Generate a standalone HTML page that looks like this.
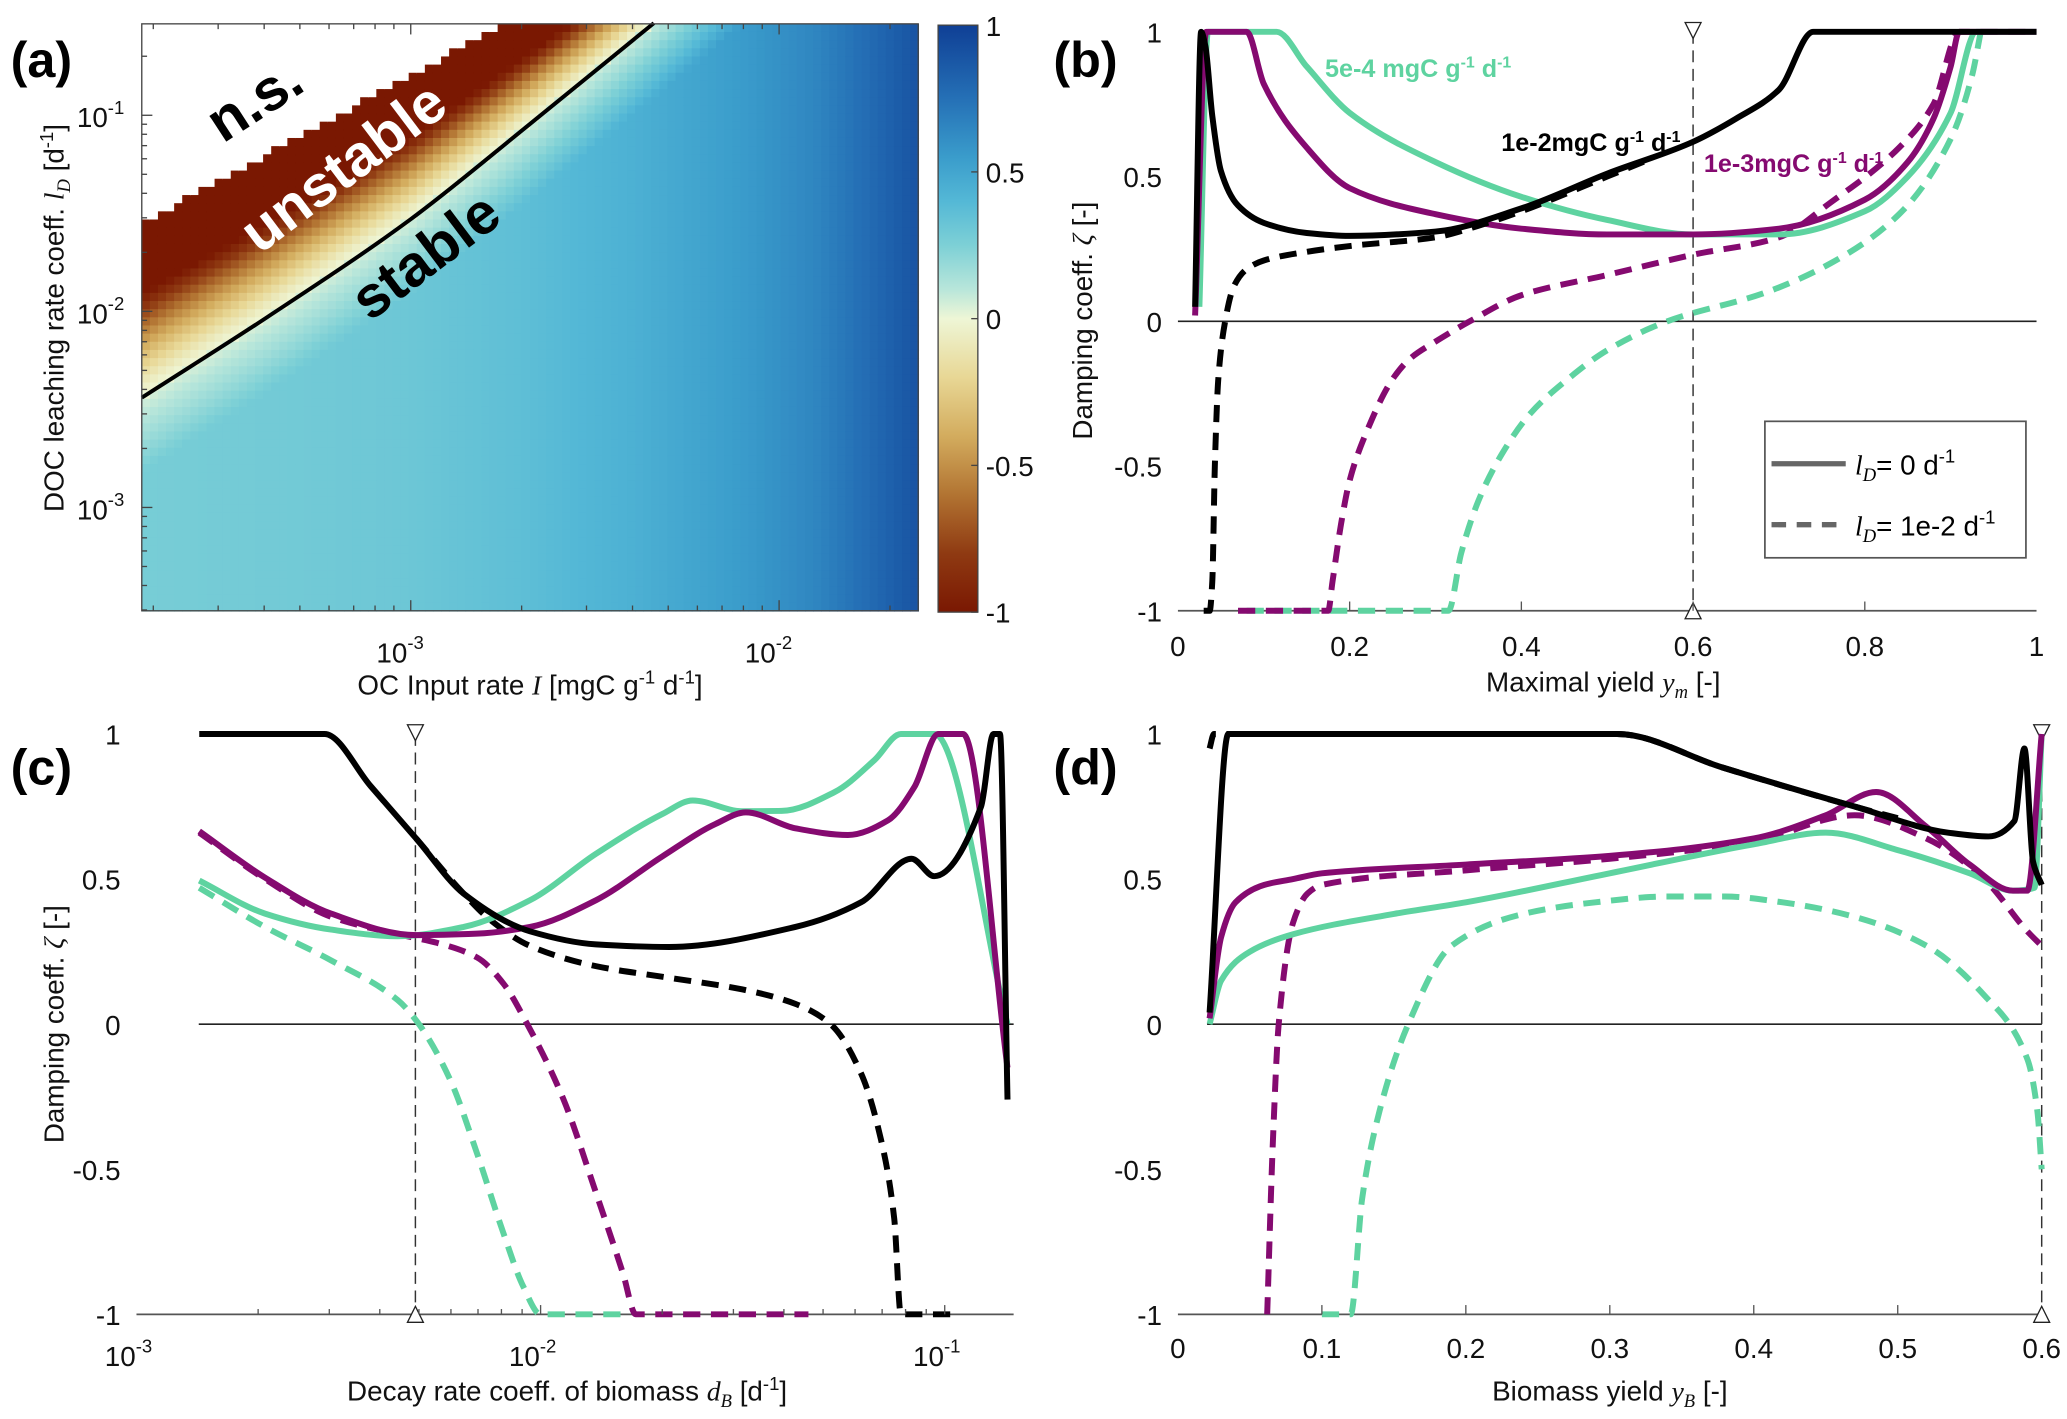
<!DOCTYPE html>
<html><head><meta charset="utf-8">
<style>
html,body{margin:0;padding:0;background:#fff;}
svg{display:block;}
text{font-family:"Liberation Sans Narrow","Liberation Sans",sans-serif;}
.tk{font-size:21px;fill:#111;}
.lab{font-size:21px;fill:#111;}
.pl{font-family:"Liberation Sans",sans-serif;font-weight:bold;font-size:38px;}
.it{font-family:"Liberation Serif",serif;font-style:italic;}
</style></head>
<body>
<svg id="fig" width="2067" height="1419" viewBox="0 0 1560 1071" preserveAspectRatio="none" xmlns="http://www.w3.org/2000/svg">
<defs>
<linearGradient id="cbg" x1="0" y1="1" x2="0" y2="0"></linearGradient>
</defs>
<g id="pa"></g>
<g id="pb"></g>
<g id="pc"></g>
<g id="pd"></g>

<text class="pl" x="8" y="58">(a)</text>
<text class="pl" x="795" y="58">(b)</text>
<text class="pl" x="8" y="592">(c)</text>
<text class="pl" x="795" y="592">(d)</text>

<text x="400" y="524" text-anchor="middle" class="lab">OC Input rate  <tspan class="it">I</tspan>  [mgC g<tspan dy="-8" font-size="14">-1</tspan><tspan dy="8"> d</tspan><tspan dy="-8" font-size="14">-1</tspan><tspan dy="8">]</tspan></text>
<text transform="translate(48,240) rotate(-90)" text-anchor="middle" class="lab">DOC leaching rate coeff.  <tspan class="it">l<tspan dy="5" font-size="14">D</tspan></tspan><tspan dy="-5"> [d</tspan><tspan dy="-8" font-size="14">-1</tspan><tspan dy="8">]</tspan></text>
<text transform="translate(200,88) rotate(-33)" text-anchor="middle" style="font-family:'Liberation Sans',sans-serif;font-weight:bold;font-size:44px" fill="#000">n.s.</text>
<text transform="translate(268,138) rotate(-37)" text-anchor="middle" style="font-family:'Liberation Sans',sans-serif;font-weight:bold;font-size:44px" fill="#fff">unstable</text>
<text transform="translate(330,205) rotate(-37)" text-anchor="middle" style="font-family:'Liberation Sans',sans-serif;font-weight:bold;font-size:44px" fill="#000">stable</text>

<text x="1210" y="522" text-anchor="middle" class="lab">Maximal yield <tspan class="it">y<tspan dy="5" font-size="14">m</tspan></tspan><tspan dy="-5"> [-]</tspan></text>
<text transform="translate(824,242) rotate(-90)" text-anchor="middle" class="lab">Damping coeff.  <tspan class="it">ζ</tspan> [-]</text>
<text x="1000" y="58" font-size="19" font-weight="bold" fill="#5ed3a0">5e-4 mgC g<tspan dy="-7" font-size="12">-1</tspan><tspan dy="7"> d</tspan><tspan dy="-7" font-size="12">-1</tspan></text>
<text x="1133" y="114" font-size="19" font-weight="bold" fill="#000">1e-2mgC g<tspan dy="-7" font-size="12">-1</tspan><tspan dy="7"> d</tspan><tspan dy="-7" font-size="12">-1</tspan></text>
<text x="1286" y="130" font-size="19" font-weight="bold" fill="#850a70">1e-3mgC g<tspan dy="-7" font-size="12">-1</tspan><tspan dy="7"> d</tspan><tspan dy="-7" font-size="12">-1</tspan></text>
<g>
<rect x="1332" y="318" width="197" height="103" fill="#fff" stroke="#555" stroke-width="1.3"/>
<line x1="1337" y1="350" x2="1393" y2="350" stroke="#666" stroke-width="4"/>
<text x="1400" y="358" font-size="21"><tspan class="it">l<tspan dy="5" font-size="14">D</tspan></tspan><tspan dy="-5">= 0 d</tspan><tspan dy="-9" font-size="14">-1</tspan></text>
<line x1="1337" y1="396" x2="1393" y2="396" stroke="#666" stroke-width="4" stroke-dasharray="11,8"/>
<text x="1400" y="404" font-size="21"><tspan class="it">l<tspan dy="5" font-size="14">D</tspan></tspan><tspan dy="-5">= 1e-2 d</tspan><tspan dy="-9" font-size="14">-1</tspan></text>
</g>

<text x="428" y="1057" text-anchor="middle" class="lab">Decay rate coeff. of biomass <tspan class="it">d<tspan dy="5" font-size="14">B</tspan></tspan><tspan dy="-5"> [d</tspan><tspan dy="-8" font-size="14">-1</tspan><tspan dy="8">]</tspan></text>
<text transform="translate(48,773) rotate(-90)" text-anchor="middle" class="lab">Damping coeff.  <tspan class="it">ζ</tspan> [-]</text>
<text x="1215" y="1057" text-anchor="middle" class="lab">Biomass yield <tspan class="it">y<tspan dy="5" font-size="14">B</tspan></tspan><tspan dy="-5"> [-]</tspan></text>
</svg>
<script>
// ---------- Panel (a) data (log10 units) ----------
const aStableLogI = [-3.73, -3.39, -3.0, -2.68, -2.34, -2.0];
const aStableLogLD = [-2.44, -2.03, -1.53, -1.05, -0.53, 0.0];
const aGradWidth = [0.53, 0.48, 0.42, 0.36, 0.31, 0.28];
const aNsLogI = [-3.73, -2.74];
const aNsLogLD = [-1.55, -0.53];
const aBaseLogI = [-3.73, -3.3, -3.0, -2.7, -2.4, -2.1, -1.9, -1.75, -1.62];
const aBaseVal = [0.27, 0.29, 0.31, 0.36, 0.44, 0.55, 0.65, 0.78, 0.9];
const aXTicks = [-3, -2];
const aYTicks = [-3, -2, -1];
const cbTicks = [1, 0.5, 0, -0.5, -1];
const cbTickLabels = ['1', '0.5', '0', '-0.5', '-1'];
const cmapVals = [-1, -0.8, -0.6, -0.4, -0.2, 0, 0.1, 0.25, 0.4, 0.55, 0.75, 1];
const cmapCols = ['#7a1802', '#8f3a12', '#b27432', '#d3ac5e', '#e8d795', '#eef6d6', '#b8e6da', '#7dd0d6', '#54b8d6', '#3a9ccb', '#2570b6', '#0f3f95'];

// ---------- Panel (b) data: [ym, zeta] ----------
const bGreenSolid = [[0.025,0.05],[0.035,1],[0.115,1],[0.15,0.88],[0.2,0.72],[0.3,0.55],[0.4,0.43],[0.5,0.35],[0.6,0.3],[0.7,0.3],[0.8,0.38],[0.85,0.5],[0.9,0.72],[0.93,1],[1,1]];
const bGreenDash = [[0.08,-1],[0.315,-1],[0.33,-0.8],[0.35,-0.62],[0.377,-0.46],[0.41,-0.32],[0.454,-0.2],[0.5,-0.1],[0.57,0],[0.685,0.1],[0.76,0.2],[0.84,0.37],[0.9,0.63],[0.925,0.85],[0.935,1]];
const bMagSolid = [[0.02,0.02],[0.033,1],[0.08,1],[0.1,0.82],[0.15,0.6],[0.2,0.46],[0.3,0.37],[0.4,0.32],[0.5,0.3],[0.6,0.3],[0.7,0.32],[0.8,0.42],[0.85,0.55],[0.88,0.7],[0.9,0.88],[0.91,1],[1,1]];
const bMagDash = [[0.07,-1],[0.175,-1],[0.18,-0.9],[0.19,-0.7],[0.2,-0.55],[0.22,-0.38],[0.25,-0.2],[0.27,-0.13],[0.3,-0.07],[0.34,0],[0.4,0.09],[0.5,0.16],[0.6,0.23],[0.7,0.29],[0.76,0.41],[0.84,0.6],[0.88,0.75],[0.91,1],[1,1]];
const bBlackSolid = [[0.02,0.05],[0.027,1],[0.032,0.95],[0.04,0.71],[0.05,0.52],[0.07,0.4],[0.1,0.34],[0.15,0.305],[0.2,0.295],[0.3,0.31],[0.4,0.39],[0.5,0.51],[0.6,0.62],[0.65,0.7],[0.7,0.8],[0.74,1],[1,1]];
const bBlackDash = [[0.03,-1],[0.037,-1],[0.04,-0.9],[0.043,-0.5],[0.047,-0.2],[0.055,0],[0.065,0.12],[0.08,0.18],[0.1,0.21],[0.15,0.24],[0.2,0.26],[0.3,0.29],[0.35,0.33],[0.4,0.38],[0.5,0.5],[0.55,0.56]];
const bXTicks = [0, 0.2, 0.4, 0.6, 0.8, 1];
const bXTickLabels = ['0', '0.2', '0.4', '0.6', '0.8', '1'];
const zTicks = [1, 0.5, 0, -0.5, -1];
const zTickLabels = ['1', '0.5', '0', '-0.5', '-1'];
const bMarker = [0.6];

// ---------- Panel (c) data: [dB, zeta] ----------
const cGreenSolid = [[1.43e-3,0.495],[2.08e-3,0.381],[3.03e-3,0.326],[4.43e-3,0.303],[6.45e-3,0.335],[9.41e-3,0.427],[1.37e-2,0.587],[2.0e-2,0.724],[2.38e-2,0.771],[3.15e-2,0.734],[3.95e-2,0.735],[5.34e-2,0.80],[6.7e-2,0.91],[7.79e-2,1],[9.42e-2,1],[0.143,0]];
const cGreenDash = [[1.43e-3,0.47],[2.08e-3,0.335],[3.03e-3,0.22],[4.43e-3,0.083],[5.0e-3,0.0],[5.98e-3,-0.193],[6.96e-3,-0.445],[8.09e-3,-0.72],[9.06e-3,-0.904],[1.0e-2,-1],[1.6e-2,-1]];
const cMagSolid = [[1.43e-3,0.665],[2.08e-3,0.505],[3.03e-3,0.381],[4.92e-3,0.307],[6.96e-3,0.312],[9.41e-3,0.335],[1.37e-2,0.427],[2.0e-2,0.578],[2.71e-2,0.69],[3.22e-2,0.73],[4.27e-2,0.675],[5.76e-2,0.652],[7.23e-2,0.702],[8.41e-2,0.817],[9.64e-2,1],[0.111,1],[0.143,-0.15]];
const cMagDash = [[1.43e-3,0.66],[2.08e-3,0.5],[3.03e-3,0.37],[4.43e-3,0.31],[5.55e-3,0.28],[6.96e-3,0.23],[8.09e-3,0.14],[9.27e-3,0],[1.14e-2,-0.26],[1.37e-2,-0.58],[1.6e-2,-0.86],[1.72e-2,-1],[4.6e-2,-1]];
const cBlackSolid = [[1.43e-3,1],[2.92e-3,1],[3.8e-3,0.82],[4.92e-3,0.64],[6.45e-3,0.45],[9.41e-3,0.32],[1.37e-2,0.275],[2.08e-2,0.266],[4.27e-2,0.335],[6.21e-2,0.42],[8.28e-2,0.57],[9.42e-2,0.51],[0.123,0.75],[0.132,1],[0.137,1],[0.143,-0.26]];
const cBlackDash = [[4.92e-3,0.64],[6.45e-3,0.45],[7.5e-3,0.36],[9.41e-3,0.27],[1.37e-2,0.2],[2.08e-2,0.16],[3.15e-2,0.12],[4.27e-2,0.07],[5.22e-2,0],[6.21e-2,-0.17],[6.96e-2,-0.4],[7.5e-2,-0.67],[7.79e-2,-1],[0.109,-1]];
const cXTicks = [1e-3, 1e-2, 1e-1];
const cXTickExp = ['-3', '-2', '-1'];
const cMarker = [4.9e-3];

// ---------- Panel (d) data: [yB, zeta] ----------
const dGreenSolid = [[0.022,0],[0.03,0.15],[0.05,0.25],[0.08,0.31],[0.15,0.38],[0.2,0.42],[0.3,0.52],[0.4,0.62],[0.45,0.66],[0.5,0.6],[0.55,0.52],[0.58,0.46],[0.595,0.47],[0.6,1]];
const dGreenDash = [[0.1,-1],[0.12,-1],[0.128,-0.6],[0.14,-0.3],[0.16,0],[0.19,0.27],[0.24,0.38],[0.29,0.42],[0.34,0.44],[0.38,0.44],[0.42,0.42],[0.47,0.37],[0.52,0.27],[0.56,0.1],[0.59,-0.12],[0.597,-0.3],[0.6,-0.5]];
const dMagSolid = [[0.022,0.02],[0.03,0.3],[0.04,0.42],[0.06,0.48],[0.08,0.5],[0.1,0.52],[0.2,0.55],[0.3,0.58],[0.4,0.64],[0.45,0.72],[0.485,0.8],[0.52,0.68],[0.55,0.55],[0.58,0.46],[0.59,0.46],[0.6,1]];
const dMagDash = [[0.062,-1],[0.066,-0.4],[0.07,0],[0.08,0.35],[0.09,0.45],[0.1,0.48],[0.2,0.53],[0.3,0.57],[0.4,0.63],[0.47,0.72],[0.52,0.64],[0.56,0.5],[0.59,0.32],[0.6,0.27]];
const dBlackSolid = [[0.022,0.04],[0.035,1],[0.305,1],[0.378,0.885],[0.47,0.75],[0.535,0.66],[0.563,0.647],[0.581,0.7],[0.588,0.95],[0.594,0.56],[0.6,0.48]];
const dBlackDash = [[0.022,0.95],[0.025,1],[0.305,1],[0.378,0.885],[0.47,0.75],[0.5,0.71]];
const dXTicks = [0, 0.1, 0.2, 0.3, 0.4, 0.5, 0.6];
const dXTickLabels = ['0', '0.1', '0.2', '0.3', '0.4', '0.5', '0.6'];
const dMarker = [0.6];

const NS = 'http://www.w3.org/2000/svg';
const GREEN = '#5ed3a0', MAG = '#850a70', BLK = '#000';
function mk(tag, attrs, parent) {
  const e = document.createElementNS(NS, tag);
  for (const k in attrs) e.setAttribute(k, attrs[k]);
  parent.appendChild(e);
  return e;
}
function interp(xs, ys, x) {
  let i = 0;
  if (x <= xs[0]) i = 0;
  else if (x >= xs[xs.length - 1]) i = xs.length - 2;
  else { while (x > xs[i + 1]) i++; }
  const t = (x - xs[i]) / (xs[i + 1] - xs[i]);
  return ys[i] + t * (ys[i + 1] - ys[i]);
}
function hex(c) { return [parseInt(c.slice(1,3),16), parseInt(c.slice(3,5),16), parseInt(c.slice(5,7),16)]; }
function cmap(v) {
  v = Math.max(-1, Math.min(1, v));
  let i = 0; while (i < cmapVals.length - 2 && v > cmapVals[i + 1]) i++;
  const t = (v - cmapVals[i]) / (cmapVals[i + 1] - cmapVals[i]);
  const a = hex(cmapCols[i]), b = hex(cmapCols[i + 1]);
  return 'rgb(' + a.map((q, k) => Math.round(q + t * (b[k] - q))).join(',') + ')';
}
// monotone cubic (Fritsch-Carlson) path through screen points
function smoothPath(P) {
  const n = P.length;
  if (n < 3) return P.map((p, i) => (i ? 'L' : 'M') + p[0].toFixed(2) + ',' + p[1].toFixed(2)).join('');
  const h = [], s = [];
  for (let i = 0; i < n - 1; i++) {
    h.push(Math.max(1e-6, P[i+1][0] - P[i][0]));
    s.push((P[i+1][1] - P[i][1]) / h[i]);
  }
  const m = new Array(n);
  m[0] = s[0]; m[n-1] = s[n-2];
  for (let i = 1; i < n - 1; i++) {
    if (s[i-1] * s[i] <= 0) m[i] = 0;
    else {
      const w1 = 2*h[i] + h[i-1], w2 = h[i] + 2*h[i-1];
      m[i] = (w1 + w2) / (w1 / s[i-1] + w2 / s[i]);
    }
  }
  let d = 'M' + P[0][0].toFixed(2) + ',' + P[0][1].toFixed(2);
  for (let i = 0; i < n - 1; i++) {
    const hh = h[i] / 3;
    d += 'C' + (P[i][0] + hh).toFixed(2) + ',' + (P[i][1] + m[i]*hh).toFixed(2) + ' ' +
         (P[i+1][0] - hh).toFixed(2) + ',' + (P[i+1][1] - m[i+1]*hh).toFixed(2) + ' ' +
         P[i+1][0].toFixed(2) + ',' + P[i+1][1].toFixed(2);
  }
  return d;
}

// ================= Panel (a) =================
const pa = document.getElementById('pa');
const aX0 = 107, aX1 = 693, aY0 = 18, aY1 = 461;
const axA = L => 310 + (L + 3) * 278;
const ayA = L => 87 - (L + 1) * 148;
const aLImin = (aX0 - 310) / 278 - 3, aLImax = (aX1 - 310) / 278 - 3;
const aLDmax = -1 - (aY0 - 87) / 148, aLDmin = -1 - (aY1 - 87) / 148;
const NX = 96, NY = 72;
const cells = mk('g', {}, pa);


for (let i = 0; i < NX; i++) {
  const L0 = aLImin + (aLImax - aLImin) * i / NX, L1 = aLImin + (aLImax - aLImin) * (i + 1) / NX;
  const Lc = (L0 + L1) / 2;
  const sb = interp(aStableLogI, aStableLogLD, Lc);
  const gw = interp(aStableLogI, aGradWidth, Lc);
  const nb = interp(aNsLogI, aNsLogLD, Lc);
  const base = interp(aBaseLogI, aBaseVal, Lc);
  for (let j = 0; j < NY; j++) {
    const M1 = aLDmax - (aLDmax - aLDmin) * j / NY, M0 = aLDmax - (aLDmax - aLDmin) * (j + 1) / NY;
    const Mc = (M0 + M1) / 2;
    let fill;
    if (Mc > nb) fill = '#ffffff';
    else {
      const d = Mc - sb;
      let v;
      if (d > 0) v = -Math.min(1, Math.pow(d / gw, 1.3));
      else v = base * Math.min(1, 0.15 + (-d) / 0.45);
      fill = cmap(v);
    }
    const x = axA(L0), w = axA(L1) - x + 0.6, y = ayA(M1), h = ayA(M0) - y + 0.6;
    const r = mk('rect', {x: x.toFixed(2), y: y.toFixed(2), width: w.toFixed(2), height: h.toFixed(2), fill: fill}, cells);
    
    
  }
}
{
  const pts = aStableLogI.slice(0, 5).map((L, k) => [axA(L), ayA(aStableLogLD[k])]);
  const p = mk('path', {d: smoothPath(pts), fill: 'none', stroke: '#000', 'stroke-width': 3}, pa);
  
  
}
const frameA = mk('rect', {x: aX0, y: aY0, width: aX1 - aX0, height: aY1 - aY0, fill: 'none', stroke: '#444', 'stroke-width': 1}, pa);


for (let dec = -4; dec <= -1; dec++) {
  for (let m = 1; m <= 9; m++) {
    const L = dec + Math.log10(m);
    if (L >= aLImin && L <= aLImax) {
      const len = m === 1 ? 8 : 4;
      const x = axA(L);
      mk('line', {x1: x, y1: aY0, x2: x, y2: aY0 + len, stroke: '#444', 'stroke-width': 1}, pa);
      mk('line', {x1: x, y1: aY1, x2: x, y2: aY1 - len, stroke: '#444', 'stroke-width': 1}, pa);
    }
    if (L >= aLDmin && L <= aLDmax) {
      const len = m === 1 ? 8 : 4;
      const y = ayA(L);
      mk('line', {x1: aX0, y1: y, x2: aX0 + len, y2: y, stroke: '#444', 'stroke-width': 1}, pa);
    }
  }
}
aXTicks.forEach(L => {
  const t = mk('text', {x: axA(L) - 8, y: 500, class: 'tk', 'text-anchor': 'middle'}, pa);
  
  
  t.innerHTML = '10<tspan dy="-10" font-size="14">' + L + '</tspan>';
});
aYTicks.forEach(L => {
  const t = mk('text', {x: 58, y: ayA(L) + 9, class: 'tk'}, pa);
  
  
  t.innerHTML = '10<tspan dy="-10" font-size="14">' + L + '</tspan>';
});
const grad = document.getElementById('cbg');
cmapVals.forEach((v, i) => mk('stop', {offset: ((v + 1) / 2 * 100).toFixed(1) + '%', 'stop-color': cmapCols[i]}, grad));
const cbY = v => 240.5 - v * 221.5;
const cb = mk('rect', {x: 708, y: cbY(1), width: 30, height: cbY(-1) - cbY(1), fill: 'url(#cbg)', stroke: '#444', 'stroke-width': 1}, pa);


cbTicks.forEach((v, i) => {
  mk('line', {x1: 733, y1: cbY(v), x2: 738, y2: cbY(v), stroke: '#444'}, pa);
  const t = mk('text', {x: 744, y: cbY(v) + 8, class: 'tk'}, pa);
  
  
  t.textContent = cbTickLabels[i];
});

// ================= Line panels =================
function linePanel(g, sx, sy, x0, x1, series, markers, zeroStart) {
  const zl = mk('line', {x1: zeroStart, y1: sy(0), x2: x1, y2: sy(0), stroke: '#222', 'stroke-width': 1.2}, g);
  
  
  const ax = mk('line', {x1: x0, y1: sy(-1), x2: x1, y2: sy(-1), stroke: '#555', 'stroke-width': 1.3}, g);
  
  
  zTicks.forEach((z, i) => {
    const t = mk('text', {x: x0 - 12, y: sy(z) + 8, class: 'tk', 'text-anchor': 'end'}, g);
    
    
    t.textContent = zTickLabels[i];
  });
  markers.forEach(m => {
    const x = sx(m);
    const ml = mk('line', {x1: x, y1: sy(1), x2: x, y2: sy(-1), stroke: '#333', 'stroke-width': 1.1, 'stroke-dasharray': '9,5'}, g);
    
    
    const tt = mk('polygon', {points: (x-6)+','+(sy(1)-7)+' '+(x+6)+','+(sy(1)-7)+' '+x+','+(sy(1)+5), fill: '#fff', stroke: '#222', 'stroke-width': 1}, g);
    
    
    const tb = mk('polygon', {points: (x-6)+','+(sy(-1)+6)+' '+(x+6)+','+(sy(-1)+6)+' '+x+','+(sy(-1)-6), fill: '#fff', stroke: '#222', 'stroke-width': 1}, g);
    
    
  });
  series.forEach(s => {
    const P = s.pts.map(p => [sx(p[0]), sy(p[1])]);
    const p = mk('path', {d: smoothPath(P), fill: 'none', stroke: s.c, 'stroke-width': 4.5, 'stroke-linejoin': 'round'}, g);
    if (s.dash) p.setAttribute('stroke-dasharray', '13,8');
    
    
  });
}

const pb = document.getElementById('pb');
const sxB = v => 889 + v * 648;
const syB = z => 242.5 - z * 218.5;
linePanel(pb, sxB, syB, 889, 1537, [
  {pts: bGreenDash, c: GREEN, dash: true, name: 'series-5e-4-leaching'},
  {pts: bMagDash, c: MAG, dash: true, name: 'series-1e-3-leaching'},
  {pts: bGreenSolid, c: GREEN, dash: false, name: 'series-5e-4-no-leaching'},
  {pts: bMagSolid, c: MAG, dash: false, name: 'series-1e-3-no-leaching'},
  {pts: bBlackDash, c: BLK, dash: true, name: 'series-1e-2-leaching'},
  {pts: bBlackSolid, c: BLK, dash: false, name: 'series-1e-2-no-leaching'}
], bMarker, 889);
bXTicks.forEach((v, i) => {
  if (i > 0 && i < bXTicks.length - 1) mk('line', {x1: sxB(v), y1: syB(-1), x2: sxB(v), y2: syB(-1) - 7, stroke: '#555'}, pb);
  const t = mk('text', {x: sxB(v), y: 495, class: 'tk', 'text-anchor': 'middle'}, pb);
  
  
  t.textContent = bXTickLabels[i];
});

const pc = document.getElementById('pc');
const sxC = d => 103 + (Math.log10(d) + 3) * 305;
const syC = z => 773 - z * 219;
linePanel(pc, sxC, syC, 103, 765, [
  {pts: cGreenDash, c: GREEN, dash: true, name: 'series-5e-4-leaching'},
  {pts: cMagDash, c: MAG, dash: true, name: 'series-1e-3-leaching'},
  {pts: cBlackDash, c: BLK, dash: true, name: 'series-1e-2-leaching'},
  {pts: cGreenSolid, c: GREEN, dash: false, name: 'series-5e-4-no-leaching'},
  {pts: cMagSolid, c: MAG, dash: false, name: 'series-1e-3-no-leaching'},
  {pts: cBlackSolid, c: BLK, dash: false, name: 'series-1e-2-no-leaching'}
], cMarker, 150);
for (let dec = -3; dec <= -1; dec++) {
  for (let m = 1; m <= 9; m++) {
    const v = Math.pow(10, dec) * m;
    const x = sxC(v);
    if (x > 103 && x < 765) mk('line', {x1: x, y1: syC(-1), x2: x, y2: syC(-1) - (m === 1 ? 7 : 4), stroke: '#555'}, pc);
  }
}
cXTicks.forEach((v, i) => {
  const t = mk('text', {x: sxC(v) - 6, y: 1031, class: 'tk', 'text-anchor': 'middle'}, pc);
  
  
  t.innerHTML = '10<tspan dy="-10" font-size="14">' + cXTickExp[i] + '</tspan>';
});

const pd = document.getElementById('pd');
const sxD = v => 889 + v * 1086.5;
const syD = z => 773 - z * 219;
linePanel(pd, sxD, syD, 889, 1541, [
  {pts: dGreenDash, c: GREEN, dash: true, name: 'series-5e-4-leaching'},
  {pts: dMagDash, c: MAG, dash: true, name: 'series-1e-3-leaching'},
  {pts: dBlackDash, c: BLK, dash: true, name: 'series-1e-2-leaching'},
  {pts: dGreenSolid, c: GREEN, dash: false, name: 'series-5e-4-no-leaching'},
  {pts: dMagSolid, c: MAG, dash: false, name: 'series-1e-3-no-leaching'},
  {pts: dBlackSolid, c: BLK, dash: false, name: 'series-1e-2-no-leaching'}
], dMarker, 911);
dXTicks.forEach((v, i) => {
  if (i > 0 && i < dXTicks.length - 1) mk('line', {x1: sxD(v), y1: syD(-1), x2: sxD(v), y2: syD(-1) - 7, stroke: '#555'}, pd);
  const t = mk('text', {x: sxD(v), y: 1025, class: 'tk', 'text-anchor': 'middle'}, pd);
  
  
  t.textContent = dXTickLabels[i];
});
</script>
</body></html>
